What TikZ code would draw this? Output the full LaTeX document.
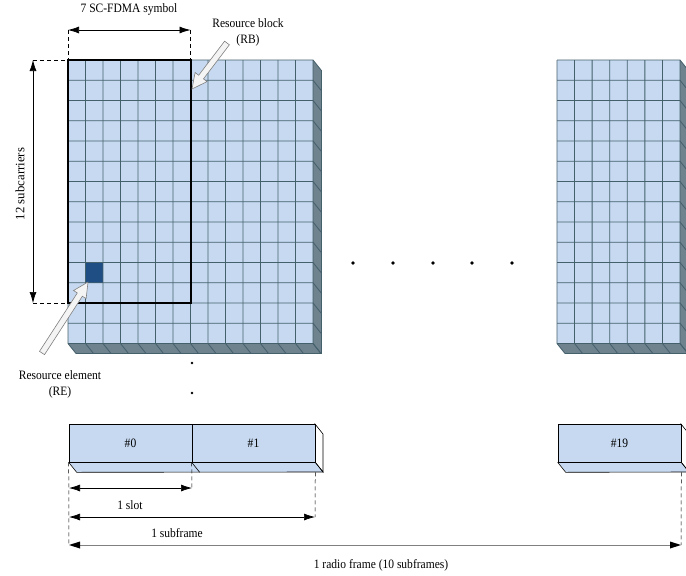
\documentclass[tikz,border=0pt]{standalone}
\usepackage{fontspec}
\setmainfont{Liberation Serif}[FakeStretch=0.9]
\newfontfamily\plainserif{Liberation Serif}
\usetikzlibrary{arrows.meta,calc}
\definecolor{cellblue}{HTML}{C6D9F1}
\definecolor{gridline}{HTML}{44606B}
\definecolor{sideface}{HTML}{6F838F}
\definecolor{recell}{HTML}{1F4E85}
\definecolor{hollowedge}{HTML}{7F7F7F}
\definecolor{hollowfill}{HTML}{F4F4F4}
\begin{document}
\begin{tikzpicture}[x=1pt,y=-1pt,
  lbl/.style={font=\fontsize{12.8}{14}\selectfont, inner sep=0pt},
  dim/.style={{Latex[length=11pt,width=7pt]}-{Latex[length=11pt,width=7pt]}, line width=0.7pt},
  guide/.style={dashed, dash pattern=on 4pt off 3pt, line width=0.5pt},
  slotbox/.style={draw=black, fill=cellblue, line width=0.6pt, minimum height=38pt, inner sep=0pt, font=\fontsize{12.8}{14}\selectfont},
  gl/.style={draw=gridline, line width=0.8pt},
  dotmark/.style={circle, fill=black, inner sep=0pt, minimum size=3.8pt}
]
\useasboundingbox (0,0) rectangle (686,576);
\clip (0,0) rectangle (686,576);

% ---------- left grid ----------
\fill[sideface] (313,60) -- (321,70) -- (321,353.5) -- (313,343.5) -- cycle;
\fill[sideface] (68,343.5) -- (313,343.5) -- (321,353.5) -- (76,353.5) -- cycle;
\fill[cellblue] (68,60) rectangle (313,343.5);
\fill[recell] (85.5,262.5) rectangle (103,282.75);
\foreach \i in {0,...,14} \draw[gl] ({68+17.5*\i},60) -- ({68+17.5*\i},343.5) -- ++(8,10);
\foreach \j in {0,...,14} \draw[gl] (68,{60+20.25*\j}) -- (313,{60+20.25*\j}) -- ++(8,10);
\draw[gl] (321,70) -- (321,353.5) -- (76,353.5);

% resource block outline
\coordinate (rbTL) at (68,60);
\coordinate (rbTR) at (190.5,60);
\coordinate (rbBL) at (68,303);
\draw[line width=2pt] (rbTL) rectangle (190.5,303);

% ---------- right grid ----------
\fill[sideface] (680,60) -- (688,70) -- (688,353.5) -- (680,343.5) -- cycle;
\fill[sideface] (557,343.5) -- (680,343.5) -- (688,353.5) -- (565,353.5) -- cycle;
\fill[cellblue] (557,60) rectangle (680,343.5);
\foreach \i in {0,...,7} \draw[gl] ({557+17.571*\i},60) -- ({557+17.571*\i},343.5) -- ++(8,10);
\foreach \j in {0,...,14} \draw[gl] (557,{60+20.25*\j}) -- (680,{60+20.25*\j}) -- ++(8,10);
\draw[gl] (688,70) -- (688,353.5) -- (565,353.5);

% ---------- top dimension: 7 SC-FDMA symbol ----------
\coordinate (symL) at (68,30);
\coordinate (symR) at (190.5,30);
\draw[guide] (symL) -- (rbTL);
\draw[guide] (symR) -- (rbTR);
\draw[dim] (symL) -- (symR);
\node[lbl] (symtxt) at (129,9) {7 SC-FDMA symbol};

% ---------- left dimension: 12 subcarriers ----------
\coordinate (scT) at (33,60);
\coordinate (scB) at (33,303);
\draw[guide] (scT) -- (rbTL);
\draw[guide] (scB) -- (rbBL);
\draw[dim] (scT) -- (scB);
\node[lbl, font=\plainserif\fontsize{12.8}{14}\selectfont, rotate=90] (sctxt) at (20,184) {12 subcarriers};

% ---------- RB label and hollow arrow ----------
\node[lbl, align=center] (rbtxt) at (248,32) {Resource block\\[2pt](RB)};
\coordinate (rbT) at (227,43);
\coordinate (rbP) at (192,89);
\coordinate (rbH) at ($(rbP)!15pt!(rbT)$);
\draw[draw=hollowedge, fill=hollowfill, line width=0.6pt]
  ($(rbT)!3pt!90:(rbP)$) -- ($(rbH)!3pt!90:(rbP)$) -- ($(rbH)!7.5pt!90:(rbP)$) -- (rbP)
  -- ($(rbH)!7.5pt!-90:(rbP)$) -- ($(rbH)!3pt!-90:(rbP)$) -- ($(rbT)!3pt!-90:(rbP)$) -- cycle;

% ---------- RE label and hollow arrow ----------
\node[lbl, align=center] (retxt) at (60,384) {Resource element\\[2pt](RE)};
\coordinate (reT) at (42,353);
\coordinate (reP) at (88,282);
\coordinate (reH) at ($(reP)!15pt!(reT)$);
\draw[draw=hollowedge, fill=hollowfill, line width=0.6pt]
  ($(reT)!3pt!90:(reP)$) -- ($(reH)!3pt!90:(reP)$) -- ($(reH)!7.5pt!90:(reP)$) -- (reP)
  -- ($(reH)!7.5pt!-90:(reP)$) -- ($(reH)!3pt!-90:(reP)$) -- ($(reT)!3pt!-90:(reP)$) -- cycle;

% ---------- dots ----------
\node[dotmark, minimum size=2.8pt] (vd1) at (192,363) {};
\node[dotmark, minimum size=2.8pt] (vd2) at (192,393) {};
\foreach \k/\xx in {1/353,2/393,3/433,4/472,5/512}
  \node[dotmark] (hd\k) at (\xx,263) {};

% ---------- slots ----------
\fill[cellblue] (69,462) -- (315,462) -- (323,472) -- (77,472) -- cycle;
\draw[line width=0.6pt, fill=white] (315,424) -- (323,434) -- (323,472) -- (315,462) -- cycle;
\node[slotbox, minimum width=123pt] (s0) at (130.5,443) {\#0};
\node[slotbox, minimum width=123pt] (s1) at (253.5,443) {\#1};
\draw[line width=0.6pt] (s0.south west) -- ++(8,10) -- (323,472);
\draw[line width=0.6pt] (s1.south west) -- ++(8,10);
\draw[line width=0.6pt] (s1.south east) -- ++(8,10);

\fill[cellblue] (558,462) -- (681,462) -- (689,472) -- (566,472) -- cycle;
\draw[line width=0.6pt, fill=white] (681,424) -- (689,434) -- (689,472) -- (681,462) -- cycle;
\node[slotbox, minimum width=123pt] (s19) at (619.5,443) {\#19};
\draw[line width=0.6pt] (s19.south west) -- ++(8,10) -- (689,472);
\draw[line width=0.6pt] (s19.south east) -- ++(8,10);

% ---------- bottom dimensions ----------
\coordinate (slotL) at (69,488);
\coordinate (slotR) at (192,488);
\coordinate (sfL) at (69,517);
\coordinate (sfR) at (315,517);
\coordinate (rfL) at (69,545);
\coordinate (rfR) at (681,545);
\draw[guide] (s0.south west) -- (rfL);
\draw[guide] (s1.south west) -- (slotR);
\draw[guide] ($(s1.south east)+(0,10)$) -- (sfR);
\draw[guide] ($(s19.south east)+(0,10)$) -- (rfR);
\draw[dim] (slotL) -- (slotR);
\draw[dim] (sfL) -- (sfR);
\draw[line width=0.9pt, draw=gray] ($(rfL)+(10,0)$) -- ($(rfR)+(-10,0)$);
\fill[black] (rfL) -- ++(11,-3.5) -- ++(0,7) -- cycle;
\fill[black] (rfR) -- ++(-11,-3.5) -- ++(0,7) -- cycle;
\node[lbl] (slottxt) at (130,505) {1 slot};
\node[lbl] (sftxt) at (177,533) {1 subframe};
\node[lbl] (rftxt) at (381,565) {1 radio frame (10 subframes)};
\end{tikzpicture}
\end{document}
